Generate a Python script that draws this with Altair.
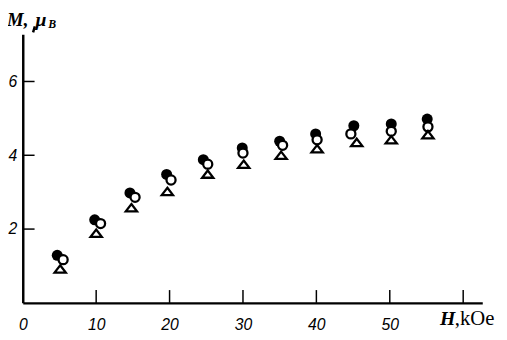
import altair as alt
import pandas as pd

# Field H (kOe) and magnetisation M (mu_B)
H_filled = [4.7, 9.8, 14.6, 19.6, 24.6, 29.9, 35.0, 39.9, 45.1, 50.2, 55.1]
M_filled = [1.29, 2.25, 2.98, 3.48, 3.88, 4.20, 4.38, 4.58, 4.80, 4.85, 4.98]

H_open = [5.5, 10.6, 15.3, 20.2, 25.2, 30.0, 35.4, 40.1, 44.7, 50.2, 55.2]
M_open = [1.17, 2.15, 2.86, 3.33, 3.76, 4.06, 4.27, 4.42, 4.58, 4.65, 4.77]

H_tri = [5.1, 10.0, 14.8, 19.7, 25.2, 30.1, 35.2, 40.1, 45.5, 50.2, 55.2]
M_tri = [0.92, 1.89, 2.58, 3.02, 3.49, 3.76, 4.00, 4.18, 4.35, 4.42, 4.56]

x_tick_values = [10, 20, 30, 40, 50, 60]
x_label_values = [0, 10, 20, 30, 40, 50]
y_tick_values = [2, 4, 6]

X_MAX = 62.6
Y_MAX = 7.28
W, HT = 467, 273

xs = alt.Scale(domain=[0, X_MAX], nice=False, zero=False)
ys = alt.Scale(domain=[0, Y_MAX], nice=False, zero=False)

label_font = "Liberation Sans"
serif = "Liberation Serif"

x_axis = alt.Axis(values=x_label_values, ticks=False, grid=False, domainColor="black",
                  domainWidth=2.2, labelFont=label_font, labelFontStyle="italic",
                  labelFontSize=16, labelColor="black", labelPadding=14, title=None,
                  labelFlush=False, labelOverlap=False)
y_axis = alt.Axis(values=y_tick_values, ticks=False, grid=False, domainColor="black",
                  domainWidth=2.5, labelFont=label_font, labelFontStyle="italic",
                  labelFontSize=16, labelColor="black", labelPadding=6, title=None,
                  labelFlush=False, labelOverlap=False)

df_f = pd.DataFrame({"H": H_filled, "M": M_filled})
df_o = pd.DataFrame({"H": H_open, "M": M_open})
df_t = pd.DataFrame({"H": H_tri, "M": M_tri})

X = lambda f: alt.X(f, scale=xs, axis=x_axis)
Y = lambda f: alt.Y(f, scale=ys, axis=y_axis)

filled = alt.Chart(df_f).mark_point(shape="circle", filled=True, color="black",
                                    size=125, opacity=1).encode(
    x=X("H:Q"), y=Y("M:Q"))
opened = alt.Chart(df_o).mark_point(shape="circle", filled=True, fill="white",
                                    stroke="black", strokeWidth=2.3, size=85,
                                    opacity=1).encode(
    x=X("H:Q"), y=Y("M:Q"))
tri = alt.Chart(df_t).mark_point(shape="M0,-0.65L1,0.65L-1,0.65Z", filled=True,
                                 fill="white", stroke="black", strokeWidth=2.3,
                                 size=130, opacity=1).encode(
    x=X("H:Q"), y=Y("M:Q"))

xticks = alt.Chart(pd.DataFrame({"H": x_tick_values})).mark_rule(
    color="black", strokeWidth=1.5).encode(
    x=X("H:Q"), y=alt.value(HT - 13), y2=alt.value(HT))
yticks = alt.Chart(pd.DataFrame({"M": y_tick_values})).mark_rule(
    color="black", strokeWidth=1.5).encode(
    y=Y("M:Q"), x=alt.value(0), x2=alt.value(12))

one = pd.DataFrame({"t": [""]})


def txt(s, x, y, size, weight="normal", style="normal"):
    return alt.Chart(pd.DataFrame({"t": [s]})).mark_text(
        font=serif, fontSize=size, fontWeight=weight, fontStyle=style,
        color="black", align="left", baseline="alphabetic").encode(
        text="t:N", x=alt.value(x), y=alt.value(y))


ytitle_m = txt("M,", -16, -8, 19, "bold", "italic")
ytitle_mu = txt("μ", 13, -8, 20, "bold", "italic")
ytitle_b = txt("B", 26, -6, 12, "bold", "italic")
xtitle_h = txt("H", 424, 295, 20, "bold", "italic")
xtitle_u = txt(",kOe", 439, 295, 21)

arrow = alt.Chart(one).mark_rule(color="black", strokeWidth=2.5).encode(
    x=alt.value(10.5), x2=alt.value(12.3), y=alt.value(-2), y2=alt.value(-8))

chart = alt.layer(filled, opened, tri, xticks, yticks, ytitle_m, ytitle_mu,
                  ytitle_b, xtitle_h, xtitle_u, arrow).properties(
    width=W, height=HT,
    padding={"left": 15, "top": 24, "right": 17, "bottom": 32},
    autosize=alt.AutoSizeParams(type="none"),
    background="white",
).configure_view(stroke=None)

chart.save("out.html", embed_options={"renderer": "svg", "actions": False})
